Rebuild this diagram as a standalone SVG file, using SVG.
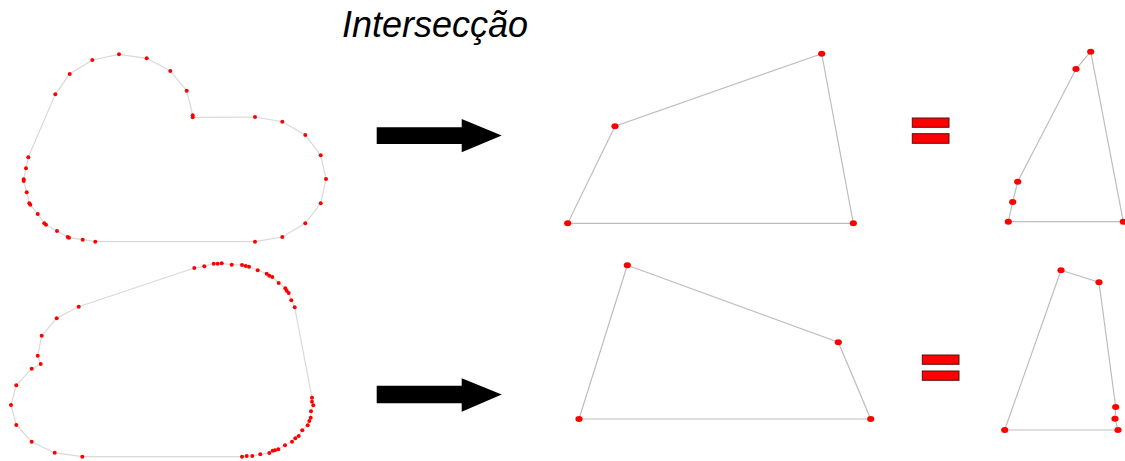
<svg xmlns="http://www.w3.org/2000/svg" width="1125" height="461" viewBox="0 0 1125 461">
<style>
.shape{fill:none;stroke:#d9d9d9;stroke-width:1.2}
.poly{fill:none;stroke:#bdbdbd;stroke-width:1.2}
.sd{fill:#ff0000}
.pd{fill:#ff0000}
.arrow{fill:#000}
.eq{fill:#ff0000;stroke:#5a1010;stroke-width:1}
.title{font-family:"Liberation Sans",Arial,sans-serif;font-style:italic;font-size:36px;fill:#000}
</style>
<defs>
<circle id="s" r="2" class="sd"/>
<ellipse id="p" rx="3.6" ry="3" class="pd"/>
</defs>
<rect width="1125" height="461" fill="#fff"/>
<text class="title" x="342" y="37">Intersecção</text>

<g id="shape-top">
<polygon class="shape" points="119,54.3 146.7,58.3 170.3,71 186.7,90.7 192.7,115.3 192.7,117.3 255,117 282.3,121.7 305.3,135 320.7,155.3 326,179 320.7,203.3 305.3,223.3 282.3,237 255,241.7 95.3,241.7 82.7,239.7 69,237.7 67.7,237 57,231 46,224.7 44.3,223.3 37.7,214 30.3,204.7 29.3,203.3 26.7,192.3 23.7,181 23.7,179.3 26,168.3 28.3,157.3 55.3,94.3 69.7,74 92.3,60"/>
<g>
<use href="#s" x="119" y="54.3"/><use href="#s" x="146.7" y="58.3"/><use href="#s" x="170.3" y="71"/><use href="#s" x="186.7" y="90.7"/><use href="#s" x="192.7" y="115.3"/><use href="#s" x="192.7" y="117.3"/><use href="#s" x="255" y="117"/><use href="#s" x="282.3" y="121.7"/><use href="#s" x="305.3" y="135"/><use href="#s" x="320.7" y="155.3"/><use href="#s" x="326" y="179"/><use href="#s" x="320.7" y="203.3"/><use href="#s" x="305.3" y="223.3"/><use href="#s" x="282.3" y="237"/><use href="#s" x="255" y="241.7"/><use href="#s" x="95.3" y="241.7"/><use href="#s" x="82.7" y="239.7"/><use href="#s" x="69" y="237.7"/><use href="#s" x="67.7" y="237"/><use href="#s" x="57" y="231"/><use href="#s" x="46" y="224.7"/><use href="#s" x="44.3" y="223.3"/><use href="#s" x="37.7" y="214"/><use href="#s" x="30.3" y="204.7"/><use href="#s" x="29.3" y="203.3"/><use href="#s" x="26.7" y="192.3"/><use href="#s" x="23.7" y="181"/><use href="#s" x="23.7" y="179.3"/><use href="#s" x="26" y="168.3"/><use href="#s" x="28.3" y="157.3"/><use href="#s" x="55.3" y="94.3"/><use href="#s" x="69.7" y="74"/><use href="#s" x="92.3" y="60"/>
</g>
</g>

<g id="shape-bottom">
<polygon class="shape" points="194.3,268 204.3,266.3 213.7,263.7 217.7,263.7 221.7,263.3 231.7,264.7 242,265 245.7,266 249,266.7 257.7,270.3 266.7,273.7 269.3,275.7 272.3,277 278.7,283 285.3,288.3 286.7,290.7 288.7,293 291.3,300.3 294.7,307.3 312,397.7 312,401.7 313.3,405.3 311,411.3 310.7,417.7 309.3,421 307.7,425.3 302.3,430.3 298.7,436 295.3,438.3 292,441.7 285,445.3 278.3,449.3 275,450.3 272.7,450.7 269.3,453 260.3,454.3 252.3,456 246.7,456 242,456.7 82.3,456.7 54.7,452.7 31.7,441.7 16.3,425 11,405 16.3,385.3 31.7,368.7 40.7,364 37.7,355.7 41.7,335.7 56.7,318.3 78.7,306.7"/>
<g>
<use href="#s" x="194.3" y="268"/><use href="#s" x="204.3" y="266.3"/><use href="#s" x="213.7" y="263.7"/><use href="#s" x="217.7" y="263.7"/><use href="#s" x="221.7" y="263.3"/><use href="#s" x="231.7" y="264.7"/><use href="#s" x="242" y="265"/><use href="#s" x="245.7" y="266"/><use href="#s" x="249" y="266.7"/><use href="#s" x="257.7" y="270.3"/><use href="#s" x="266.7" y="273.7"/><use href="#s" x="269.3" y="275.7"/><use href="#s" x="272.3" y="277"/><use href="#s" x="278.7" y="283"/><use href="#s" x="285.3" y="288.3"/><use href="#s" x="286.7" y="290.7"/><use href="#s" x="288.7" y="293"/><use href="#s" x="291.3" y="300.3"/><use href="#s" x="294.7" y="307.3"/><use href="#s" x="312" y="397.7"/><use href="#s" x="312" y="401.7"/><use href="#s" x="313.3" y="405.3"/><use href="#s" x="311" y="411.3"/><use href="#s" x="310.7" y="417.7"/><use href="#s" x="309.3" y="421"/><use href="#s" x="307.7" y="425.3"/><use href="#s" x="302.3" y="430.3"/><use href="#s" x="298.7" y="436"/><use href="#s" x="295.3" y="438.3"/><use href="#s" x="292" y="441.7"/><use href="#s" x="285" y="445.3"/><use href="#s" x="278.3" y="449.3"/><use href="#s" x="275" y="450.3"/><use href="#s" x="272.7" y="450.7"/><use href="#s" x="269.3" y="453"/><use href="#s" x="260.3" y="454.3"/><use href="#s" x="252.3" y="456"/><use href="#s" x="246.7" y="456"/><use href="#s" x="242" y="456.7"/><use href="#s" x="82.3" y="456.7"/><use href="#s" x="54.7" y="452.7"/><use href="#s" x="31.7" y="441.7"/><use href="#s" x="16.3" y="425"/><use href="#s" x="11" y="405"/><use href="#s" x="16.3" y="385.3"/><use href="#s" x="31.7" y="368.7"/><use href="#s" x="40.7" y="364"/><use href="#s" x="37.7" y="355.7"/><use href="#s" x="41.7" y="335.7"/><use href="#s" x="56.7" y="318.3"/><use href="#s" x="78.7" y="306.7"/>
</g>
</g>

<g id="arrows">
<polygon class="arrow" points="376.7,127.3 461.7,127.3 461.7,119 501.7,135.5 461.7,152.3 461.7,144 376.7,144"/>
<polygon class="arrow" points="376.7,385.7 461.7,385.7 461.7,378.3 501.7,394.5 461.7,411.7 461.7,403.3 376.7,403.3"/>
</g>

<g id="quad-top">
<polygon class="poly" points="821.7,53.7 615,126.3 567.7,223.3 853.3,223.3"/>
<use href="#p" x="821.7" y="53.7"/><use href="#p" x="615" y="126.3"/><use href="#p" x="567.7" y="223.3"/><use href="#p" x="853.3" y="223.3"/>
</g>

<g id="quad-bottom">
<polygon class="poly" points="627.3,265.3 838.3,342.3 870.7,419 579,419"/>
<use href="#p" x="627.3" y="265.3"/><use href="#p" x="838.3" y="342.3"/><use href="#p" x="870.7" y="419"/><use href="#p" x="579" y="419"/>
</g>

<g id="equals-top">
<rect class="eq" x="912.3" y="118" width="36.7" height="9.3"/>
<rect class="eq" x="912.3" y="133.7" width="36.7" height="9.6"/>
</g>
<g id="equals-bottom">
<rect class="eq" x="922.3" y="355" width="36.7" height="9.3"/>
<rect class="eq" x="922.3" y="371" width="36.7" height="9.3"/>
</g>

<g id="result-top">
<polygon class="poly" points="1090.7,51.7 1076,69 1017.7,181.7 1012.7,202 1008.3,221.7 1123.3,221.7"/>
<use href="#p" x="1090.7" y="51.7"/><use href="#p" x="1076" y="69"/><use href="#p" x="1017.7" y="181.7"/><use href="#p" x="1012.7" y="202"/><use href="#p" x="1008.3" y="221.7"/><use href="#p" x="1123.3" y="221.7"/>
</g>

<g id="result-bottom">
<polygon class="poly" points="1061,270.3 1099,282.3 1115.7,407 1115,418.7 1118,430 1004.7,430"/>
<use href="#p" x="1061" y="270.3"/><use href="#p" x="1099" y="282.3"/><use href="#p" x="1115.7" y="407"/><use href="#p" x="1115" y="418.7"/><use href="#p" x="1118" y="430"/><use href="#p" x="1004.7" y="430"/>
</g>
</svg>
